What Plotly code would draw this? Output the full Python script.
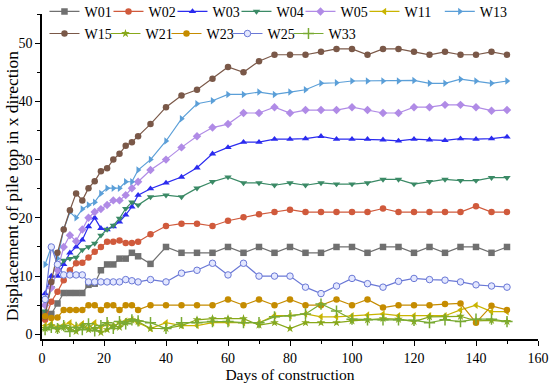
import plotly.graph_objects as go

days = [1, 3, 5, 7, 9, 11, 13, 15, 17, 19, 21, 23, 25, 27, 29, 31,
        35, 40, 45, 50, 55, 60, 65, 70, 75, 80, 85, 90, 95, 100, 105, 110,
        115, 120, 125, 130, 135, 140, 145, 150]

W01 = [3.5, 3.5, 5.3, 7.1, 7.1, 7.1, 7.1, 8.5, 8.7, 11.0, 12.0, 12.0, 13.0, 13.0, 14.0, 13.4,
       12.1, 15.0, 14.0, 14.0, 14.0, 15.0, 14.0, 15.0, 14.0, 15.0, 14.0, 14.0, 15.0, 15.0, 14.0, 15.0,
       15.0, 14.0, 15.0, 14.0, 15.0, 15.0, 14.0, 15.0]
W02 = [2.5, 5.6, 7.3, 9.3, 11.0, 12.2, 12.3, 13.2, 14.2, 15.0, 15.9, 15.9, 16.1, 15.7, 15.7, 15.9,
       17.2, 18.6, 19.0, 19.0, 18.6, 19.5, 20.1, 20.6, 21.0, 21.4, 21.0, 21.0, 21.0, 21.0, 21.0, 21.6,
       21.0, 21.0, 21.0, 21.0, 21.0, 22.0, 21.0, 21.0]
W03 = [7.0, 10.0, 10.0, 12.0, 14.0, 15.0, 16.2, 18.5, 20.0, 18.2, 18.0, 18.5, 19.3, 20.5, 21.9, 23.9,
       25.0, 26.0, 27.0, 28.6, 31.0, 32.1, 33.0, 33.0, 33.5, 33.5, 33.6, 34.0, 33.5, 33.5, 33.5, 33.4,
       33.2, 33.5, 33.4, 33.3, 33.6, 33.5, 33.6, 33.9]
W04 = [4.0, 8.0, 11.0, 12.7, 13.0, 13.2, 14.5, 15.0, 15.6, 17.0, 18.0, 18.7, 19.9, 21.6, 22.7, 22.2,
       23.6, 23.9, 23.6, 25.1, 26.2, 27.0, 26.0, 26.0, 25.6, 26.0, 25.6, 26.0, 25.8, 25.8, 26.0, 26.6,
       26.6, 25.8, 26.2, 26.6, 26.4, 26.4, 26.9, 26.9]
W05 = [5.0, 8.0, 11.0, 15.0, 17.0, 16.0, 18.0, 20.0, 21.0, 21.5, 22.2, 23.0, 23.0, 23.9, 25.1, 26.2,
       28.2, 30.0, 32.1, 34.0, 35.5, 36.1, 38.0, 38.0, 39.0, 38.0, 38.5, 38.5, 38.5, 39.0, 38.5, 38.0,
       38.0, 39.0, 39.0, 39.4, 39.4, 39.0, 38.4, 38.5]
W11 = [1.5, 1.8, 1.2, 1.6, 2.0, 1.3, 1.8, 1.0, 2.0, 1.1, 1.8, 1.3, 2.0, 2.3, 2.5, 2.0,
       1.0, 2.0, 1.5, 1.5, 2.0, 2.0, 2.0, 2.0, 3.2, 3.2, 3.5, 3.0, 3.0, 3.2, 3.3, 3.5,
       3.2, 3.2, 3.2, 3.2, 4.2, 5.0, 3.9, 3.9]
W13 = [12.0, 15.0, 13.0, 18.0, 21.0, 20.0, 21.5, 22.2, 22.7, 24.2, 25.1, 25.1, 25.1, 26.2, 26.2, 28.2,
       30.0, 33.2, 37.0, 39.6, 40.1, 41.2, 41.2, 41.6, 41.2, 41.6, 42.0, 43.1, 43.2, 43.5, 43.5, 43.5,
       43.5, 43.6, 43.1, 43.1, 43.8, 43.5, 43.1, 43.5]
W15 = [3.0, 9.0, 14.0, 18.0, 21.3, 24.2, 23.0, 25.1, 26.3, 28.0, 28.5, 30.0, 31.0, 32.4, 33.0, 34.0,
       36.1, 39.0, 41.0, 42.0, 43.9, 45.9, 45.0, 46.9, 48.0, 48.0, 48.0, 48.5, 49.0, 49.0, 48.0, 49.0,
       49.0, 48.5, 48.0, 48.5, 48.0, 48.0, 48.5, 48.0]
W21 = [1.0, 1.5, 0.8, 1.2, 1.0, 0.5, 1.5, 0.8, 1.0, 0.3, 0.8, 1.5, 1.2, 2.0, 2.5, 2.2,
       1.0, 1.0, 1.5, 2.5, 2.7, 2.7, 2.7, 1.6, 2.0, 1.0, 2.0, 2.0, 2.0, 2.3, 2.5, 2.7,
       2.6, 2.2, 3.0, 3.0, 3.1, 2.3, 2.4, 2.2]
W23 = [3.1, 2.8, 2.9, 4.2, 4.2, 4.2, 4.2, 5.0, 5.0, 4.2, 5.0, 5.0, 4.2, 5.0, 5.0, 4.2,
       5.0, 5.0, 5.0, 5.0, 5.0, 6.0, 5.0, 6.0, 5.0, 6.0, 5.0, 5.0, 6.0, 5.0, 6.0, 4.6,
       5.0, 5.0, 5.0, 5.2, 5.3, 2.0, 4.9, 4.2]
W25 = [6.0, 15.0, 12.0, 10.2, 10.2, 10.2, 10.2, 9.0, 9.0, 9.0, 9.0, 9.0, 9.0, 9.4, 9.2, 9.0,
       9.4, 9.0, 10.5, 11.0, 12.2, 10.2, 12.2, 10.0, 10.0, 10.0, 8.1, 7.0, 8.3, 9.6, 8.7, 8.1,
       9.1, 9.6, 9.4, 9.3, 9.0, 8.5, 8.3, 8.1]
W33 = [0.8, 1.2, 1.0, 1.5, 0.5, 1.2, 0.8, 1.8, 0.6, 1.5, 2.0, 1.0, 2.2, 1.8, 2.5, 2.3,
       2.0, 1.0, 2.0, 2.0, 2.2, 2.2, 2.0, 2.0, 3.0, 3.2, 3.5, 5.2, 4.0, 2.6, 2.5, 2.5,
       2.5, 2.4, 2.0, 2.5, 2.2, 2.6, 2.6, 2.2]

names = ["W01", "W02", "W03", "W04", "W05", "W11", "W13", "W15", "W21", "W23", "W25", "W33"]
values = [W01, W02, W03, W04, W05, W11, W13, W15, W21, W23, W25, W33]
colors = ["#707070", "#d05a3c", "#2b2bef", "#3b8a66", "#b08be6", "#c9b400",
          "#5b9fd8", "#7a5848", "#88a81a", "#c58c00", "#6a78d6", "#79aa33"]
symbols = ["square", "circle", "triangle-up", "triangle-down", "diamond", "triangle-left",
           "triangle-right", "circle", "star", "circle", "circle", "cross-thin-open"]
legend_row = ["legend"] * 6 + ["legend3"] + ["legend2"] * 5

fig = go.Figure()
for n, v, c, s, lg in zip(names, values, colors, symbols, legend_row):
    marker = dict(symbol=s, size=6.5, color=c, line=dict(width=0))
    if n == "W25":
        marker = dict(symbol="circle", size=6.5, color="#e4e8ff", line=dict(width=1, color=c))
    if n == "W33":
        marker = dict(symbol=s, size=8, color=c, line=dict(width=1.5, color=c))
    fig.add_trace(go.Scatter(x=days, y=v, name=n, mode="lines+markers", legend=lg,
                             line=dict(color=c, width=1.2), marker=marker))

# invisible spacer entries so the last legend label is not clipped
for lg in ["legend", "legend2"]:
    fig.add_trace(go.Scatter(x=[None], y=[None], name=" ", mode="lines", legend=lg,
                             line=dict(color="rgba(0,0,0,0)"), hoverinfo="skip"))

font_family = "Liberation Serif, Times New Roman, serif"
leg_common = dict(orientation="h", xanchor="left", yanchor="top",
                  bgcolor="rgba(0,0,0,0)", font=dict(size=14, family=font_family),
                  itemwidth=30, tracegroupgap=0)
fig.update_layout(
    width=550, height=384,
    margin=dict(l=42, r=12, t=14, b=45, autoexpand=False),
    paper_bgcolor="white", plot_bgcolor="white",
    font=dict(family=font_family, size=14, color="black"),
    showlegend=True,
    legend=dict(x=0.005, y=1.056, entrywidth=19, entrywidthmode="pixels", **leg_common),
    legend3=dict(x=0.802, y=1.056, **leg_common),
    legend2=dict(x=0.005, y=0.988, entrywidth=16, entrywidthmode="pixels", **leg_common),
    xaxis=dict(range=[0, 160], tickvals=[0, 20, 40, 60, 80, 100, 120, 140, 160],
               showgrid=False, zeroline=False, showline=True, linecolor="black", linewidth=1.5,
               ticks="outside", ticklen=5, tickwidth=1.2, tickcolor="black",
               minor=dict(ticks="outside", ticklen=3, tickwidth=1.2, tickcolor="black", dtick=10, tick0=0),
               title=dict(text="Days of construction", font=dict(size=15.5, family=font_family), standoff=0),
               tickfont=dict(size=14, family=font_family), automargin=False),
    yaxis=dict(range=[-0.8, 55], tickvals=[0, 10, 20, 30, 40, 50],
               showgrid=False, zeroline=False, showline=True, linecolor="black", linewidth=1.5,
               ticks="outside", ticklen=5, tickwidth=1.2, tickcolor="black",
               minor=dict(ticks="outside", ticklen=3, tickwidth=1.2, tickcolor="black", dtick=5, tick0=0),
               tickfont=dict(size=14, family=font_family), automargin=False),
    annotations=[dict(text="Displacement of pile top in x direction", xref="paper", yref="paper",
                      x=-0.0605, y=0.47, xanchor="center", yanchor="middle", textangle=-90,
                      showarrow=False, font=dict(size=17.5, family=font_family, color="black"))],
)

fig.write_html("out.html", config={"displayModeBar": False},
               post_script="document.body.style.margin='0';")
